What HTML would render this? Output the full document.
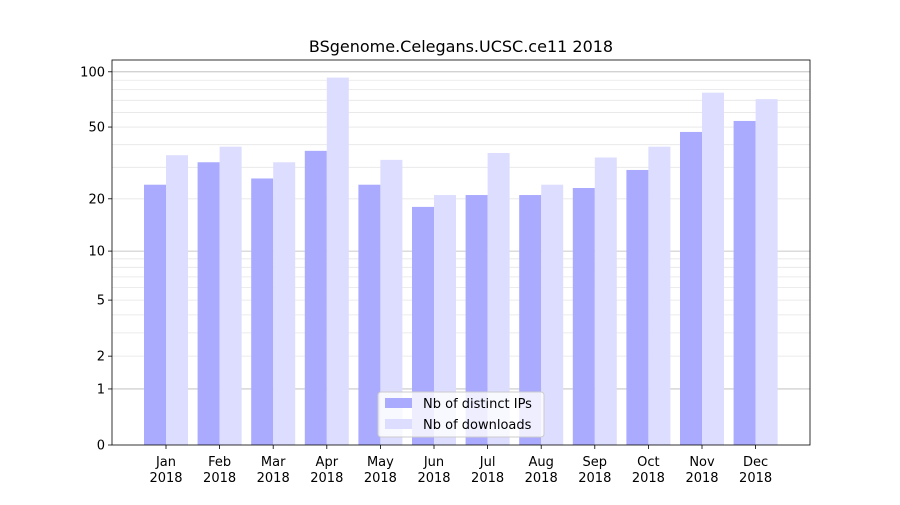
<!DOCTYPE html>
<html><head><meta charset="utf-8"><style>
body{margin:0;background:#fff;font-family:"Liberation Sans","DejaVu Sans",sans-serif;}
</style></head><body>
<svg id="chart" width="900" height="500" xmlns="http://www.w3.org/2000/svg" font-family="DejaVu Sans, Liberation Sans, sans-serif"></svg>
<script>
const months = ["Jan","Feb","Mar","Apr","May","Jun","Jul","Aug","Sep","Oct","Nov","Dec"];
const ips = [24,32,26,37,24,18,21,21,23,29,47,54];
const downloads = [35,39,32,93,33,21,36,24,34,39,77,71];
const yTicks = [0,1,2,5,10,20,50,100];
const minorTicks = [2,3,4,5,6,7,8,9,20,30,40,50,60,70,80,90];
const majorTicks = [1,10,100];

const svg = document.getElementById('chart');
const NS = 'http://www.w3.org/2000/svg';
const L=112,R=810,T=60,B=445;
const y = v => B - 186.2*Math.log10(1+v);
const step = (R-L)/12;
const xc = i => 166 + i*53.6;
function mk(tag, attrs){const e=document.createElementNS(NS,tag);for(const k in attrs)e.setAttribute(k,attrs[k]);svg.appendChild(e);return e;}

minorTicks.forEach(v=>{const l=mk('line',{x1:L,x2:R,y1:y(v),y2:y(v),stroke:'#e6e6e6','stroke-width':0.8});

});
majorTicks.forEach(v=>{const l=mk('line',{x1:L,x2:R,y1:y(v),y2:y(v),stroke:'#b8b8b8','stroke-width':0.8});

});

months.forEach((m,i)=>{
  const a=mk('rect',{x:xc(i)-22,y:y(ips[i]),width:22,height:B-y(ips[i]),fill:'#aaaaff'});
  
  
  const b=mk('rect',{x:xc(i),y:y(downloads[i]),width:22,height:B-y(downloads[i]),fill:'#ddddff'});
  
  
  mk('line',{x1:xc(i),x2:xc(i),y1:B,y2:B+4,stroke:'#000','stroke-width':0.8});
  const t=mk('text',{x:xc(i),y:466,'text-anchor':'middle','font-size':13});
  t.textContent=m;
  
  
  const t2=mk('text',{x:xc(i),y:482,'text-anchor':'middle','font-size':13});
  t2.textContent='2018';
  
  
});

yTicks.forEach(v=>{
  mk('line',{x1:L-4,x2:L,y1:y(v),y2:y(v),stroke:'#000','stroke-width':0.8});
  const t=mk('text',{x:L-7,y:y(v)+4.5,'text-anchor':'end','font-size':13});
  t.textContent=v;
  
  
});

const ax=mk('rect',{x:L,y:T,width:R-L,height:B-T,fill:'none',stroke:'#000','stroke-width':0.8});



const title=mk('text',{x:461,y:52,'text-anchor':'middle','font-size':16});
title.textContent='BSgenome.Celegans.UCSC.ce11 2018';



const lg=mk('rect',{x:378,y:392,width:166,height:45,fill:'#fff','fill-opacity':0.8,stroke:'#ccc',rx:3});


[['#aaaaff','Nb of distinct IPs',398],['#ddddff','Nb of downloads',419]].forEach(([c,s,yy])=>{
  mk('rect',{x:385,y:yy,width:27,height:10,fill:c});
  const t=mk('text',{x:423,y:yy+10,'font-size':13});
  t.textContent=s;
  
  
});
</script>
</body></html>
